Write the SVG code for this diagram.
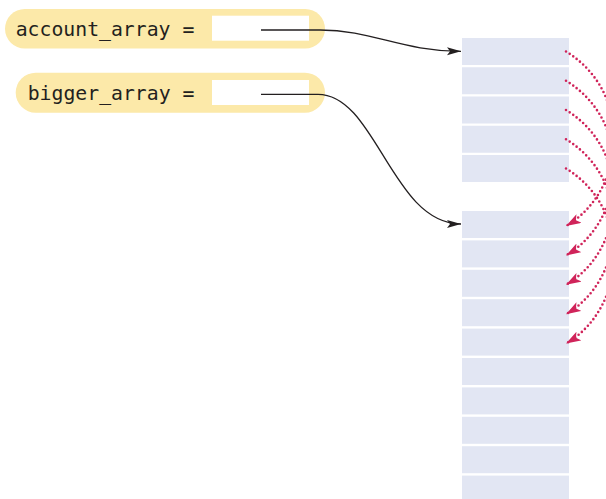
<svg xmlns="http://www.w3.org/2000/svg" width="606" height="499" viewBox="0 0 606 499">
  <style>
    .pill { fill: #fce9a9; }
    .slot { fill: #ffffff; }
    .lbl { font-family: "DejaVu Sans Mono", "Liberation Mono", monospace; font-size: 19.8px; fill: #231f20; }
    .cell { fill: #e2e6f3; }
    .ref { fill: none; stroke: #231f20; stroke-width: 1.3; }
    .copy { fill: none; stroke: #d0245a; stroke-width: 2.6; stroke-linecap: round; stroke-dasharray: 0 4.3; }
  </style>
  <defs>
    <marker id="blackArrow" markerUnits="userSpaceOnUse" markerWidth="16" markerHeight="10" refX="14" refY="4" orient="auto">
      <path d="M0,0 L14,4 L0,8 L3,4 Z" fill="#231f20"/>
    </marker>
    <marker id="redArrow" markerUnits="userSpaceOnUse" markerWidth="17" markerHeight="11" refX="15" refY="5" orient="auto">
      <path d="M0,0 L15,5 L0,10 L3.5,5 Z" fill="#d0245a"/>
    </marker>
  </defs>

  <g id="account_array_var">
    <rect class="pill" x="5" y="9" width="320" height="39.5" rx="19.75"/>
    <rect class="slot" x="212" y="15.7" width="97" height="25"/>
    <text class="lbl" x="15.7" y="36">account_array =</text>
  </g>

  <g id="bigger_array_var">
    <rect class="pill" x="15.7" y="72.7" width="309.3" height="40" rx="20"/>
    <rect class="slot" x="212" y="80" width="97" height="25"/>
    <text class="lbl" x="27.7" y="100">bigger_array =</text>
  </g>

  <g id="account_array_obj">
    <rect class="cell" x="462" y="38" width="107" height="27"/>
    <rect class="cell" x="462" y="67.25" width="107" height="27"/>
    <rect class="cell" x="462" y="96.5" width="107" height="27"/>
    <rect class="cell" x="462" y="125.75" width="107" height="27"/>
    <rect class="cell" x="462" y="155" width="107" height="27"/>
  </g>

  <g id="bigger_array_obj">
    <rect class="cell" x="462" y="211" width="107" height="27"/>
    <rect class="cell" x="462" y="240.4" width="107" height="27"/>
    <rect class="cell" x="462" y="269.8" width="107" height="27"/>
    <rect class="cell" x="462" y="299.2" width="107" height="27"/>
    <rect class="cell" x="462" y="328.6" width="107" height="27"/>
    <rect class="cell" x="462" y="358" width="107" height="27"/>
    <rect class="cell" x="462" y="387.4" width="107" height="27"/>
    <rect class="cell" x="462" y="416.8" width="107" height="27"/>
    <rect class="cell" x="462" y="446.2" width="107" height="27"/>
    <rect class="cell" x="462" y="475.6" width="107" height="27"/>
  </g>

  <g id="connectors">
    <path class="ref" d="M261,30 H320 C372,30 402,51.3 461,51.3" marker-end="url(#blackArrow)"/>
    <path class="ref" d="M261,94.3 H318 C376,94.3 392,224 461,224" marker-end="url(#blackArrow)"/>

    <path class="copy" d="M566,51.5 C634,93.1 626.2,191 566,226" marker-end="url(#redArrow)"/>
    <path class="copy" d="M566,80.75 C634,122.35 626.2,220.4 566,255.4" marker-end="url(#redArrow)"/>
    <path class="copy" d="M566,110 C634,151.6 626.2,249.8 566,284.8" marker-end="url(#redArrow)"/>
    <path class="copy" d="M566,139.25 C634,180.85 626.2,279.2 566,314.2" marker-end="url(#redArrow)"/>
    <path class="copy" d="M566,168.5 C634,210.1 626.2,308.6 566,343.6" marker-end="url(#redArrow)"/>
  </g>
</svg>
